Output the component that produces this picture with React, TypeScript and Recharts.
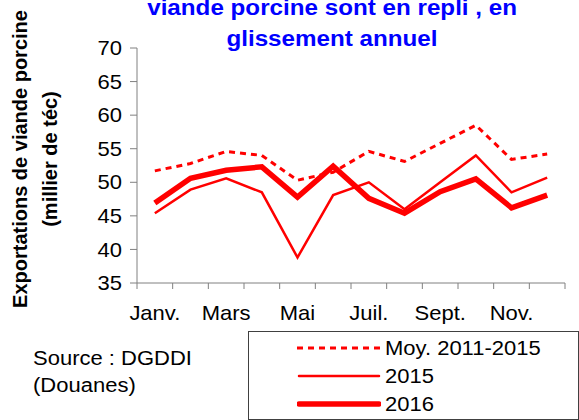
import React from 'react';
import { LineChart, Line, XAxis, YAxis } from 'recharts';

const months = ['Janv.', 'Févr.', 'Mars', 'Avr.', 'Mai', 'Juin', 'Juil.', 'Août', 'Sept.', 'Oct.', 'Nov.', 'Déc.'];
const moy20112015 = [51.7, 52.8, 54.6, 54.0, 50.3, 51.5, 54.6, 53.1, 55.8, 58.5, 53.4, 54.2];
const values2015 = [45.4, 48.9, 50.6, 48.5, 38.8, 48.1, 50.0, 46.0, 50.0, 54.0, 48.5, 50.7];
const values2016 = [46.9, 50.6, 51.8, 52.3, 47.8, 52.4, 47.6, 45.4, 48.6, 50.5, 46.2, 48.1];
const yTicks = [35, 40, 45, 50, 55, 60, 65, 70];

const data = months.map((m, i) => ({
  idx: i + 1,
  month: m,
  moy: moy20112015[i],
  a2015: values2015[i],
  a2016: values2016[i],
}));

// boundaries between months carry the tick marks, odd months carry the labels
const xTicks = Array.from({ length: months.length * 2 + 1 }, (_, i) => 0.5 + i * 0.5);

const AXIS = '#808080';
const RED = '#ff0000';
const FONT = '"Liberation Sans", Arial, sans-serif';
const WIDEN = 1.1; // the source picture is a bit stretched sideways

function MonthTick(props: any) {
  const { x, y, payload } = props;
  const v = payload.value;
  if (v % 1 !== 0) {
    return <line x1={x} y1={y} x2={x} y2={y + 6} stroke={AXIS} strokeWidth={1} />;
  }
  if (v % 2 === 1) {
    return (
      <text
        transform={`translate(${x},${y + 37}) scale(${WIDEN},1)`}
        textAnchor="middle"
        fill="#000"
        fontSize={20}
        fontFamily={FONT}
      >
        {months[v - 1]}
      </text>
    );
  }
  return null;
}

function ValueTick(props: any) {
  const { x, y, payload } = props;
  return (
    <text
      transform={`translate(${x},${y}) scale(${WIDEN},1)`}
      textAnchor="end"
      dy="0.355em"
      fill="#000"
      fontSize={20}
      fontFamily={FONT}
    >
      {payload.value}
    </text>
  );
}

const legendRows = [
  { label: 'Moy. 2011-2015', width: 3, dash: '6 5' },
  { label: '2015', width: 2.5, dash: undefined },
  { label: '2016', width: 5.5, dash: undefined },
];

const wide = (origin: string): React.CSSProperties => ({
  display: 'inline-block',
  transform: `scaleX(${WIDEN})`,
  transformOrigin: origin,
});

export default function App() {
  return (
    <div
      style={{
        position: 'absolute',
        left: 0,
        top: 0,
        width: 579,
        height: 420,
        overflow: 'hidden',
        background: '#fff',
        fontFamily: FONT,
      }}
    >
      <LineChart width={579} height={420} data={data} margin={{ top: 48, right: 14, bottom: 97, left: 0 }}>
        <XAxis
          dataKey="idx"
          type="number"
          domain={[0.5, 12.5]}
          ticks={xTicks}
          interval={0}
          tick={<MonthTick />}
          tickLine={false}
          tickSize={0}
          tickMargin={0}
          height={40}
          axisLine={{ stroke: AXIS }}
        />
        <YAxis
          domain={[35, 70]}
          ticks={yTicks}
          interval={0}
          width={137}
          tickSize={7}
          tickMargin={8}
          axisLine={{ stroke: AXIS }}
          tickLine={{ stroke: AXIS }}
          tick={<ValueTick />}
        />
        <Line
          dataKey="moy"
          type="linear"
          stroke={RED}
          strokeWidth={3}
          strokeDasharray="6 5"
          dot={false}
          isAnimationActive={false}
        />
        <Line dataKey="a2015" type="linear" stroke={RED} strokeWidth={2.5} dot={false} isAnimationActive={false} />
        <Line dataKey="a2016" type="linear" stroke={RED} strokeWidth={5.5} dot={false} isAnimationActive={false} />
      </LineChart>

      <div
        style={{
          position: 'absolute',
          left: 82,
          top: -8,
          width: 500,
          textAlign: 'center',
          color: '#0000ff',
          fontWeight: 'bold',
          fontSize: 22,
          lineHeight: '31px',
          whiteSpace: 'nowrap',
        }}
      >
        <span style={wide('center')}>viande porcine sont en repli , en</span>
        <br />
        <span style={wide('center')}>glissement annuel</span>
      </div>

      <div
        style={{
          position: 'absolute',
          left: -145,
          top: 129,
          width: 360,
          height: 60,
          transform: 'rotate(-90deg)',
          transformOrigin: 'center',
          textAlign: 'center',
          fontWeight: 'bold',
          fontSize: 20,
          lineHeight: '30px',
          color: '#000',
          whiteSpace: 'nowrap',
        }}
      >
        Exportations de viande porcine
        <br />
        (millier de téc)
      </div>

      <div
        style={{
          position: 'absolute',
          left: 33,
          top: 345,
          fontSize: 20,
          lineHeight: '27px',
          color: '#000',
          whiteSpace: 'nowrap',
        }}
      >
        <span style={wide('left')}>Source : DGDDI</span>
        <br />
        <span style={wide('left')}>(Douanes)</span>
      </div>

      <div
        style={{
          position: 'absolute',
          left: 248,
          top: 331,
          width: 331,
          height: 89,
          border: '1px solid #404040',
          boxSizing: 'border-box',
        }}
      >
        {legendRows.map((r, i) => (
          <div
            key={r.label}
            style={{
              position: 'absolute',
              left: 48,
              top: 2 + i * 28,
              height: 28,
              display: 'flex',
              alignItems: 'center',
              fontSize: 20,
              color: '#000',
              whiteSpace: 'nowrap',
            }}
          >
            <svg width={84} height={10} style={{ display: 'block' }}>
              <line
                x1={r.dash ? 0 : 2}
                y1={5}
                x2={r.dash ? 84 : 82}
                y2={5}
                stroke={RED}
                strokeWidth={r.width}
                strokeDasharray={r.dash}
                strokeLinecap={r.dash ? 'butt' : 'round'}
              />
            </svg>
            <span style={{ ...wide('left'), marginLeft: 4 }}>{r.label}</span>
          </div>
        ))}
      </div>
    </div>
  );
}
